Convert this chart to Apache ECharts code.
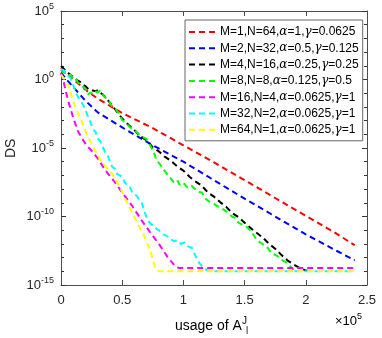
<!DOCTYPE html>
<html>
<head>
<meta charset="utf-8">
<script src="https://cdn.jsdelivr.net/npm/echarts@6/dist/echarts.min.js"></script>
<style>
  html, body { margin: 0; padding: 0; background: #fff; }
  #chart { width: 382px; height: 338px; }
</style>
</head>
<body>
<div id="chart"></div>
<script>
  // x in units of 1e5, y given as exponent of 10
  const names = [
    "M=1,N=64,α=1,γ=0.0625",
    "M=2,N=32,α=0.5,γ=0.125",
    "M=4,N=16,α=0.25,γ=0.25",
    "M=8,N=8,α=0.125,γ=0.5",
    "M=16,N=4,α=0.0625,γ=1",
    "M=32,N=2,α=0.0625,γ=1",
    "M=64,N=1,α=0.0625,γ=1"
  ];
  const colors = ["#ff0000", "#0000ff", "#000000", "#00ff00", "#ff00ff", "#00ffff", "#ffff00"];
  const xTicks = [0, 0.5, 1, 1.5, 2, 2.5];

  const redX = [0, 0.05, 0.1, 0.2, 0.3, 0.5, 0.75, 1.0, 1.25, 1.5, 1.75, 2.0, 2.25, 2.4];
  const redExp = [0.85, 0.4, 0.0, -0.75, -1.4, -2.45, -3.55, -4.8, -6.05, -7.35, -8.65, -9.95, -11.25, -12.1];

  const blueX = [0, 0.05, 0.1, 0.2, 0.3, 0.5, 0.75, 1.0, 1.25, 1.5, 1.75, 2.0, 2.25, 2.4];
  const blueExp = [0.5, -0.05, -0.55, -1.55, -2.4, -3.5, -4.8, -6.0, -7.35, -8.7, -10.0, -11.3, -12.5, -13.2];

  const blackX = [0, 0.02, 0.05, 0.08, 0.1, 0.13, 0.16, 0.2, 0.23, 0.26, 0.28, 0.3, 0.32, 0.34, 0.37, 0.4, 0.43, 0.47, 0.5, 0.55,
    0.6, 0.65, 0.7, 0.75, 0.8, 0.85, 0.9, 0.95, 1.0, 1.05, 1.1, 1.15, 1.2, 1.25, 1.3, 1.35, 1.4, 1.45, 1.5, 1.55,
    1.6, 1.65, 1.7, 1.75, 1.8, 1.85, 1.9, 1.95, 2.0, 2.05];
  const blackExp = [1.0, 0.8, 0.55, 0.3, 0.2, -0.05, -0.2, -0.5, -0.75, -0.8, -0.85, -0.8, -0.95, -1.1, -1.35, -1.7, -2.05, -2.5, -2.85, -3.3,
    -3.7, -4.15, -4.45, -4.95, -5.25, -5.65, -5.95, -6.35, -6.65, -7.1, -7.45, -7.75, -8.25, -8.55, -8.95, -9.3, -9.75, -10.05, -10.45, -10.85,
    -11.2, -11.55, -12.0, -12.35, -12.8, -13.2, -13.5, -13.75, -13.95, -14.0];

  const greenX = [0, 0.02, 0.04, 0.06, 0.08, 0.1, 0.12, 0.14, 0.17, 0.2, 0.22, 0.24, 0.26, 0.28, 0.3, 0.32, 0.34, 0.36, 0.39, 0.42,
    0.45, 0.47, 0.5, 0.53, 0.56, 0.6, 0.63, 0.67, 0.7, 0.74, 0.76, 0.78, 0.81, 0.84, 0.87, 0.9, 0.92, 0.95, 0.97, 1.0,
    1.03, 1.06, 1.09, 1.12, 1.15, 1.18, 1.21, 1.24, 1.27, 1.3, 1.33, 1.36, 1.39, 1.42, 1.45, 1.48, 1.51, 1.54, 1.57, 1.6,
    1.63, 1.66, 1.69, 1.72, 1.75, 1.78, 1.81, 1.84, 1.87, 1.9];
  const greenExp = [0.7, 0.5, 0.45, 0.3, 0.35, 0.05, 0.1, -0.25, -0.45, -0.7, -1.1, -0.95, -1.05, -0.85, -0.95, -0.8, -1.1, -1.3, -1.55, -2.0,
    -2.2, -2.45, -2.95, -3.2, -3.45, -3.7, -3.95, -4.2, -4.35, -5.0, -5.35, -5.9, -6.2, -6.6, -6.95, -7.25, -7.5, -7.35, -7.7, -7.55,
    -7.85, -7.7, -7.95, -8.2, -8.25, -8.7, -8.9, -9.0, -9.2, -9.35, -9.5, -9.7, -9.95, -10.1, -10.45, -10.6, -10.7, -10.95, -11.3, -11.75,
    -11.9, -12.1, -12.3, -12.7, -12.8, -12.95, -13.2, -13.35, -13.6, -13.9];

  const magentaX = [0, 0.02, 0.04, 0.06, 0.1, 0.14, 0.2, 0.25, 0.3, 0.36, 0.44, 0.52, 0.58, 0.66, 0.74, 0.8, 0.87, 0.93, 0.96, 1.2, 1.6, 2.0, 2.4];
  const magentaExp = [0.5, -0.1, -0.9, -1.6, -2.8, -3.8, -4.7, -5.2, -5.75, -6.6, -7.5, -8.5, -9.2, -10.3, -11.3, -12.0, -12.95, -13.6, -13.75, -13.75, -13.75, -13.75, -13.75];

  const cyanX = [0, 0.02, 0.04, 0.06, 0.08, 0.1, 0.12, 0.14, 0.16, 0.18, 0.2, 0.22, 0.24, 0.26, 0.28, 0.3, 0.32, 0.34, 0.36, 0.38,
    0.4, 0.42, 0.44, 0.46, 0.48, 0.5, 0.52, 0.54, 0.56, 0.58, 0.6, 0.62, 0.64, 0.66, 0.68, 0.7, 0.72, 0.74, 0.76, 0.78,
    0.8, 0.83, 0.86, 0.89, 0.92, 0.95, 0.98, 1.01, 1.04, 1.07, 1.08, 1.1, 1.13, 1.16, 1.19, 1.22, 1.4, 1.7, 2.0, 2.4];
  const cyanExp = [0.75, 0.7, 0.45, 0.3, 0.05, -0.4, -0.9, -1.3, -1.55, -1.85, -2.2, -2.7, -3.1, -3.6, -3.8, -4.3, -4.5, -4.9, -5.3, -5.5,
    -6.0, -6.4, -6.5, -6.9, -7.0, -7.1, -7.5, -7.7, -7.8, -8.2, -8.4, -8.5, -8.8, -9.0, -9.6, -10.1, -10.4, -10.6, -10.65, -10.9,
    -11.0, -11.3, -11.4, -11.6, -11.8, -11.75, -12.0, -11.9, -12.2, -12.3, -12.5, -12.9, -13.4, -13.7, -13.9, -14.0, -14.0, -14.0, -14.0, -14.0];

  const yellowX = [0, 0.03, 0.06, 0.11, 0.17, 0.22, 0.28, 0.33, 0.42, 0.5, 0.54, 0.62, 0.69, 0.74, 0.77, 0.8, 1.2, 1.6, 2.0, 2.4];
  const yellowExp = [0.35, 0.0, -0.45, -1.85, -3.1, -4.2, -5.2, -6.0, -6.9, -8.2, -9.0, -10.4, -11.6, -12.8, -13.8, -14.0, -14.0, -14.0, -14.0, -14.0];

  const allX = [redX, blueX, blackX, greenX, magentaX, cyanX, yellowX];
  const allExp = [redExp, blueExp, blackExp, greenExp, magentaExp, cyanExp, yellowExp];

  const font = "Liberation Sans, Arial, sans-serif";
  const axisColor = "#4d4d4d";

  let chart = echarts.init(document.getElementById("chart"));

  const series = names.map((name, i) => ({
    name: name,
    type: "line",
    xAxisIndex: 0,
    yAxisIndex: 0,
    showSymbol: false,
    symbol: "none",
    animation: false,
    lineStyle: { color: colors[i], width: 2, type: [6, 4] },
    itemStyle: { color: colors[i] },
    data: allX[i].map((x, k) => [x, Math.pow(10, allExp[i][k])])
  }));

  const expLabel = v => {
    let e = Math.round(Math.log10(v));
    return "{b|10}{s|" + e + "}";
  };

  const labelRich = {
    b: { fontSize: 13, fontFamily: font, color: "#262626" },
    s: { fontSize: 9, fontFamily: font, color: "#262626", padding: [0, 0, 9, 0] }
  };

  // y axis helper: major (labelled) or minor (decade ticks only)
  function logAxis(position, major) {
    return {
      type: "log",
      logBase: 10,
      position: position,
      min: 1e-15,
      max: 1e5,
      interval: major ? 5 : 1,
      splitNumber: major ? 4 : 20,
      axisLine: { show: major, onZero: false, lineStyle: { color: axisColor, width: 1 } },
      axisTick: { show: true, inside: true, length: major ? 5 : 3, lineStyle: { color: "#333" } },
      splitLine: { show: false },
      axisLabel: major && position === "left"
        ? { margin: 7, formatter: expLabel, rich: labelRich }
        : { show: false }
    };
  }

  chart.setOption({
    animation: false,
    backgroundColor: "#fff",
    grid: { left: 61, right: 15, top: 11, bottom: 53 },
    legend: {
      data: names,
      orient: "vertical",
      left: 185,
      top: 20,
      padding: [5, 4, 4, 3],
      itemWidth: 26,
      itemHeight: 14,
      itemGap: 2.3,
      itemStyle: { opacity: 0 },
      lineStyle: { width: 2 },
      borderColor: "#666",
      borderWidth: 1,
      backgroundColor: "#fff",
      selectedMode: false,
      formatter: n => n.replace(/α/g, "{g|α}").replace(/γ/g, "{g|γ}"),
      textStyle: {
        fontSize: 12,
        fontFamily: font,
        color: "#000",
        lineHeight: 14,
        rich: {
          g: { fontSize: 12, fontStyle: "italic", fontFamily: "DejaVu Serif, serif", color: "#000" }
        }
      }
    },
    xAxis: [{
      type: "value",
      min: 0,
      max: 2.5,
      interval: 0.5,
      axisLine: { show: true, onZero: false, lineStyle: { color: axisColor, width: 1 } },
      axisTick: { inside: true, length: 5, lineStyle: { color: axisColor } },
      splitLine: { show: false },
      axisLabel: {
        margin: 9,
        fontSize: 13,
        fontFamily: font,
        color: "#262626",
        formatter: v => String(v)
      }
    }, {
      type: "value",
      position: "top",
      min: 0,
      max: 2.5,
      interval: 0.5,
      axisLine: { show: true, onZero: false, lineStyle: { color: axisColor, width: 1 } },
      axisTick: { inside: true, length: 5, lineStyle: { color: axisColor } },
      axisLabel: { show: false },
      splitLine: { show: false }
    }],
    yAxis: [
      logAxis("left", true),
      logAxis("right", true),
      logAxis("left", false),
      logAxis("right", false)
    ],
    graphic: [
      {
        type: "text",
        x: 4,
        y: 158,
        rotation: Math.PI / 2,
        style: { text: "DS", fontSize: 14, fontFamily: font, fill: "#262626" }
      },
      {
        type: "text",
        x: 175,
        y: 316,
        style: {
          text: "{n|usage of A}{sup|J}",
          fontFamily: font,
          rich: {
            n: { fontSize: 14, fontFamily: font, color: "#262626" },
            sup: { fontSize: 10, fontFamily: font, color: "#262626", padding: [0, 0, 10, 0] }
          }
        }
      },
      {
        type: "text",
        x: 246,
        y: 326,
        style: { text: "l", fontSize: 10, fontFamily: font, fill: "#262626" }
      },
      {
        type: "text",
        x: 335,
        y: 312,
        style: {
          text: "{n|×10}{sup|5}",
          rich: {
            n: { fontSize: 13, fontFamily: font, color: "#262626" },
            sup: { fontSize: 9, fontFamily: font, color: "#262626", padding: [0, 0, 9, 0] }
          }
        }
      }
    ],
    series: series
  });
</script>
</body>
</html>
